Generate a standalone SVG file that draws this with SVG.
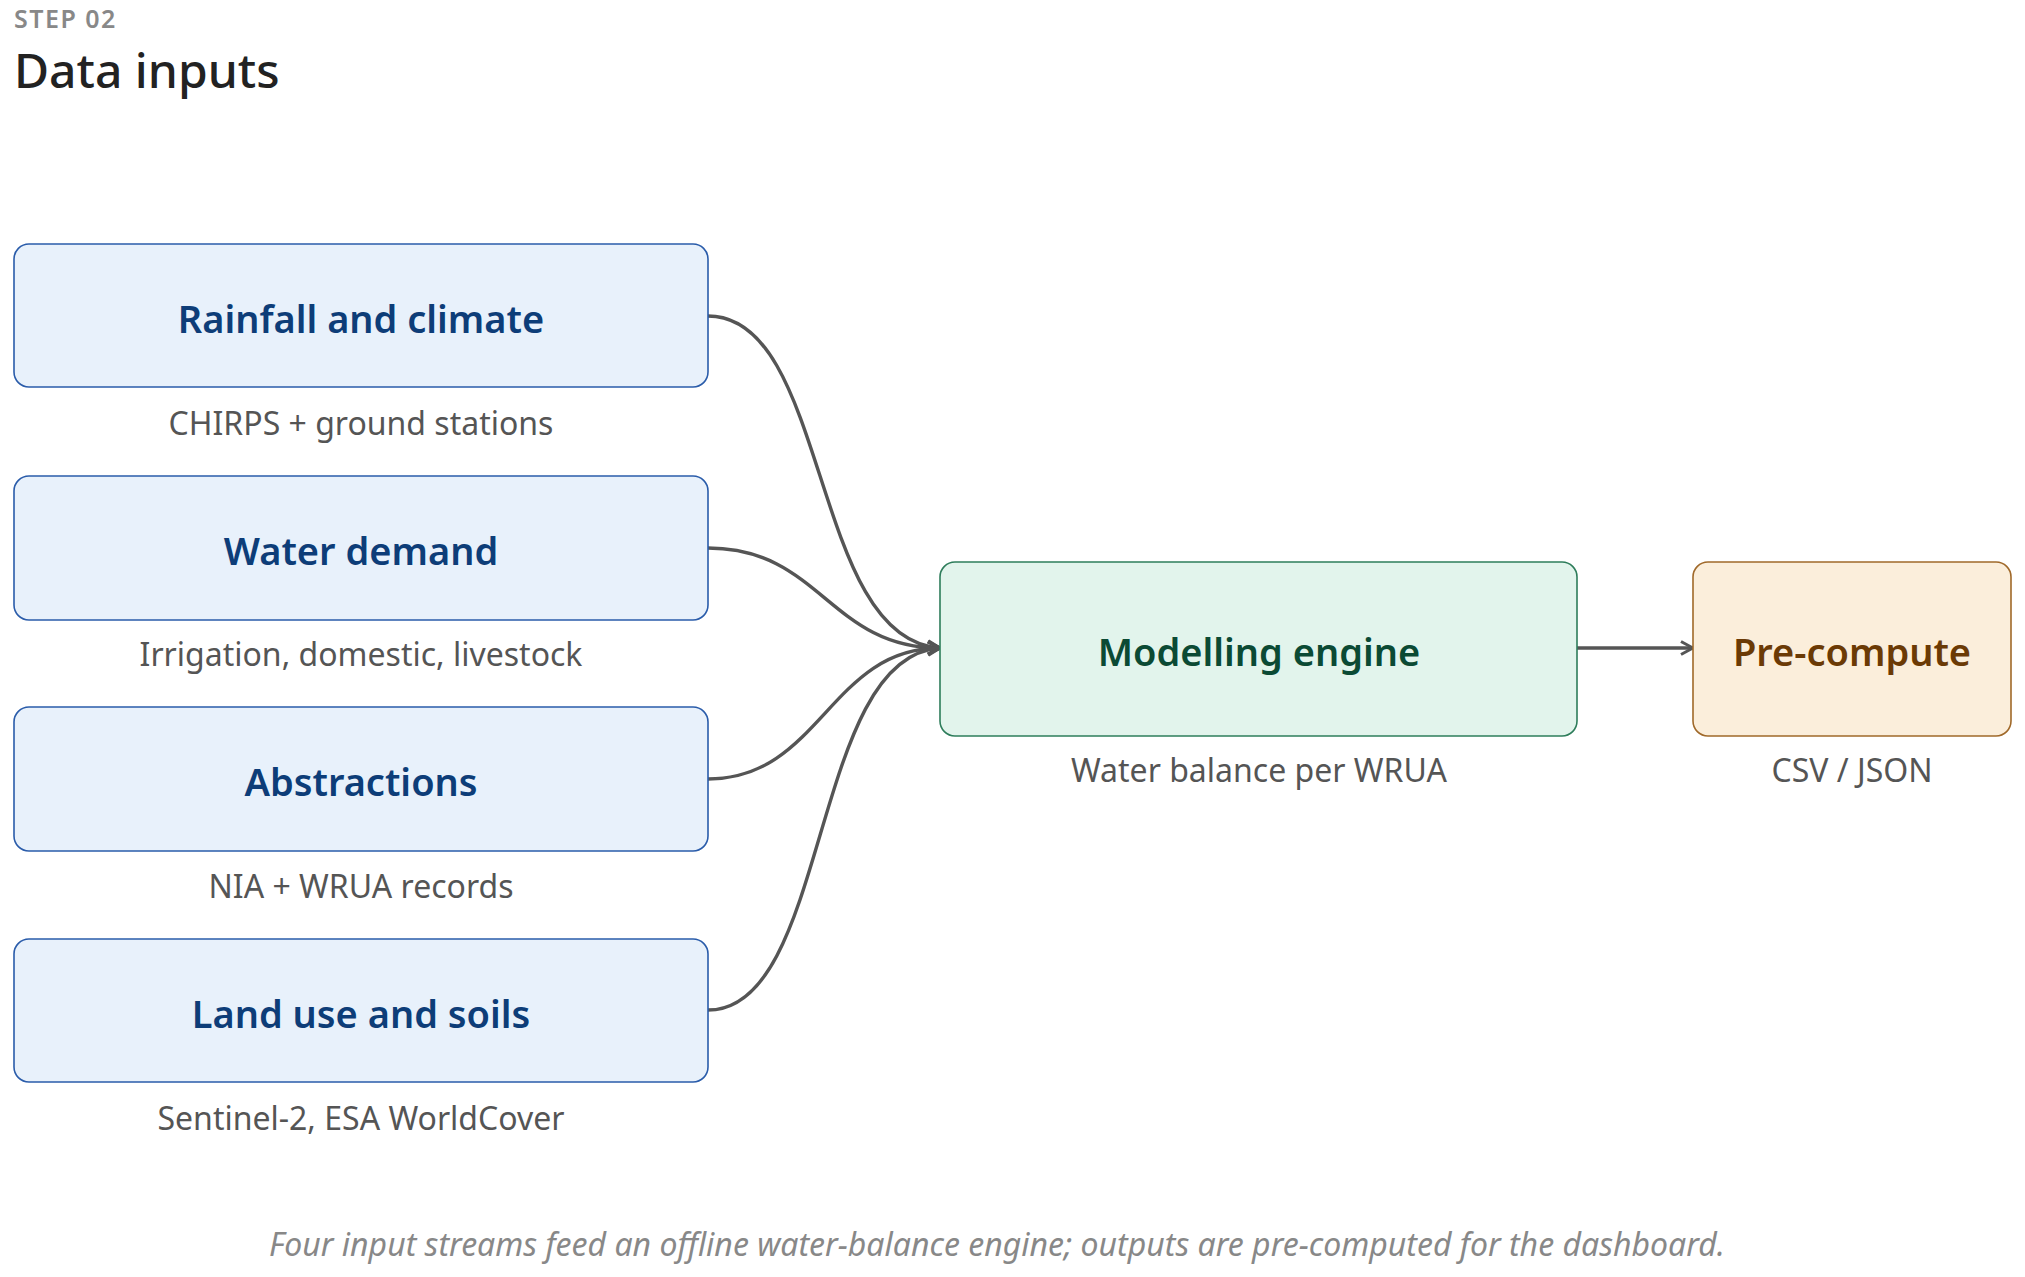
<svg xmlns="http://www.w3.org/2000/svg" width="2025" height="1277" viewBox="0 0 2025 1277">
<style>
text{font-family:"Noto Sans","Open Sans",sans-serif}
.in rect{fill:#e8f1fb;stroke:#2a5caa;stroke-width:1.6}
.in .t{fill:#0d3d78}
.t{font-size:38px;font-weight:600;text-anchor:middle;dominant-baseline:central}
.s{font-size:32px;fill:#555;text-anchor:middle}
.c{fill:none;stroke:#555;stroke-width:3.4}
</style>
<defs><marker id="ah" viewBox="0 0 16 16" refX="14" refY="8" markerWidth="16" markerHeight="16" markerUnits="userSpaceOnUse" orient="auto"><path d="M2,1.5 L14,8 L2,14.5" fill="none" stroke="#555" stroke-width="3"/></marker></defs>
<rect width="2025" height="1277" fill="#fff"/>
<text x="14" y="28" font-size="25" font-weight="600" fill="#888" letter-spacing="1.5">STEP 02</text>
<text x="14" y="88" font-size="48" font-weight="500" fill="#222">Data inputs</text>
<g id="connectors">
<path class="c" d="M708,316 C830,316 810,640 940,648" marker-end="url(#ah)"/>
<path class="c" d="M708,548 C820,548 830,648 940,648" marker-end="url(#ah)"/>
<path class="c" d="M708,779 C820,779 830,648 940,648" marker-end="url(#ah)"/>
<path class="c" d="M708,1010 C830,1010 810,656 940,648" marker-end="url(#ah)"/>
<path class="c" d="M1577,648 L1693,648" marker-end="url(#ah)"/>
</g>
<g id="rainfall" class="in"><rect x="14" y="244" width="694" height="143" rx="15"/><text class="t" x="361" y="318">Rainfall and climate</text><text class="s" x="361" y="435">CHIRPS + ground stations</text></g>
<g id="demand" class="in"><rect x="14" y="476" width="694" height="144" rx="15"/><text class="t" x="361" y="550">Water demand</text><text class="s" x="361" y="666">Irrigation, domestic, livestock</text></g>
<g id="abstractions" class="in"><rect x="14" y="707" width="694" height="144" rx="15"/><text class="t" x="361" y="781">Abstractions</text><text class="s" x="361" y="898">NIA + WRUA records</text></g>
<g id="landuse" class="in"><rect x="14" y="939" width="694" height="143" rx="15"/><text class="t" x="361" y="1013">Land use and soils</text><text class="s" x="361" y="1130">Sentinel-2, ESA WorldCover</text></g>
<g id="engine"><rect x="940" y="562" width="637" height="174" rx="15" fill="#e2f4ec" stroke="#2e7d5b" stroke-width="1.6"/><text class="t" x="1259" y="651" fill="#0b4a34">Modelling engine</text><text class="s" x="1259" y="782">Water balance per WRUA</text></g>
<g id="precompute"><rect x="1693" y="562" width="318" height="174" rx="15" fill="#fbeedb" stroke="#a0692a" stroke-width="1.6"/><text class="t" x="1852" y="651" fill="#6b3a05">Pre-compute</text><text class="s" x="1852" y="782">CSV / JSON</text></g>
<text x="997" y="1256" font-size="32" font-style="italic" fill="#888" text-anchor="middle">Four input streams feed an offline water-balance engine; outputs are pre-computed for the dashboard.</text>
</svg>
